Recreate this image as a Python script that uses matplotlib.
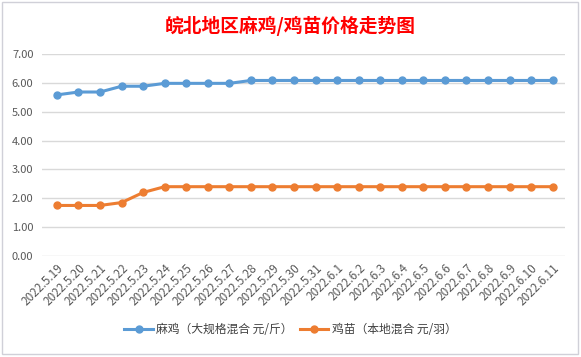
import matplotlib.pyplot as plt
from matplotlib.patches import Rectangle

plt.rcParams['font.family'] = ['Noto Sans CJK SC', 'DejaVu Sans']

dates = ['2022.5.19', '2022.5.20', '2022.5.21', '2022.5.22', '2022.5.23', '2022.5.24',
         '2022.5.25', '2022.5.26', '2022.5.27', '2022.5.28', '2022.5.29', '2022.5.30',
         '2022.5.31', '2022.6.1', '2022.6.2', '2022.6.3', '2022.6.4', '2022.6.5',
         '2022.6.6', '2022.6.7', '2022.6.8', '2022.6.9', '2022.6.10', '2022.6.11']
majji = [5.58, 5.68, 5.68, 5.88, 5.88, 5.98, 5.98, 5.98, 5.98, 6.08, 6.08, 6.08,
         6.08, 6.08, 6.08, 6.08, 6.08, 6.08, 6.08, 6.08, 6.08, 6.08, 6.08, 6.08]
jimiao = [1.75, 1.75, 1.75, 1.85, 2.20, 2.40, 2.40, 2.40, 2.40, 2.40, 2.40, 2.40,
          2.40, 2.40, 2.40, 2.40, 2.40, 2.40, 2.40, 2.40, 2.40, 2.40, 2.40, 2.40]
labels = ['麻鸡（大规格混合 元/斤）', '鸡苗（本地混合 元/羽）']
title = '皖北地区麻鸡/鸡苗价格走势图'

fig = plt.figure(figsize=(5.81, 3.57), dpi=100)
fig.patches.append(Rectangle((0.004, 0.008), 0.991, 0.985, transform=fig.transFigure,
                             fill=False, edgecolor='#D0D0D8', linewidth=1.0))
ax = fig.add_axes([0.072, 0.283, 0.900, 0.566])

x = list(range(len(dates)))
ax.plot(x, majji, '-o', color='#5B9BD5', lw=2.2, ms=5, label=labels[0])
ax.plot(x, jimiao, '-o', color='#ED7D31', lw=2.2, ms=5, label=labels[1])

ax.set_ylim(0, 7)
ax.set_xlim(-0.7, 23.56)
ax.set_yticks([0, 1, 2, 3, 4, 5, 6, 7])
ax.set_yticklabels(['%.2f' % v for v in range(8)])
ax.set_xticks(x)
ax.set_xticklabels(dates, rotation=45, ha='right', rotation_mode='anchor')
ax.tick_params(axis='both', length=0, labelsize=8, colors='#595959')
ax.tick_params(axis='x', labelsize=8.5, pad=4)
ax.tick_params(axis='y', pad=6)
ax.grid(axis='y', color='#D9D9D9', lw=1)
ax.set_axisbelow(True)
for s in ax.spines.values():
	s.set_visible(False)

fig.text(0.5, 0.927, title, ha='center', va='center', color='#FF0000',
         fontsize=13.5, fontweight='bold')
fig.legend(loc='center', bbox_to_anchor=(0.5, 0.076), ncol=2, frameon=False,
           fontsize=8.5, handlelength=2.4, handletextpad=0.3, columnspacing=0.6,
           labelcolor='#404040')

fig.savefig('out.png', dpi=100)
